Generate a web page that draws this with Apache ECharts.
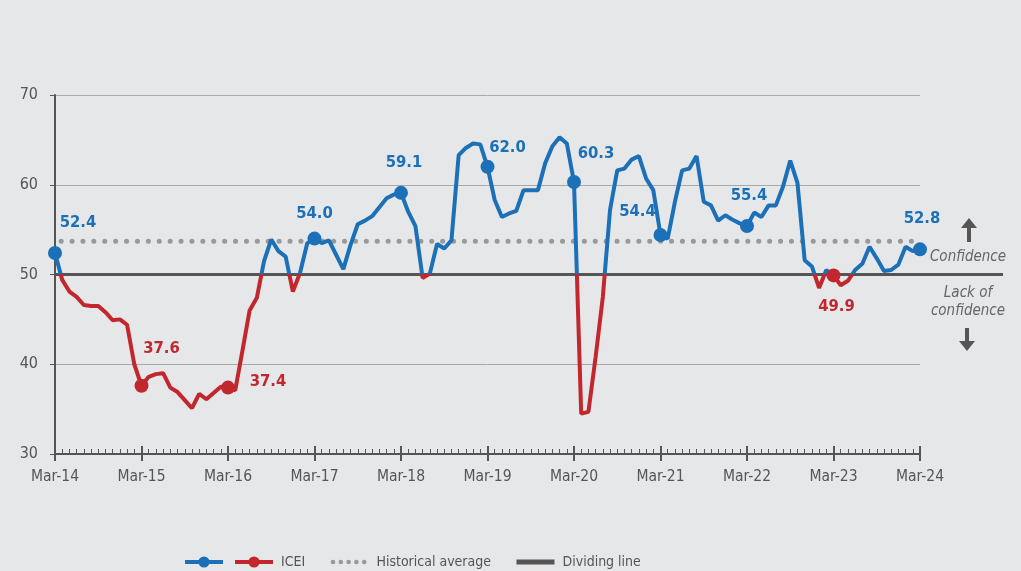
<!DOCTYPE html>
<html>
	<head>
		<meta charset="utf-8">
		<title>ICEI</title>
		<script src="https://cdn.jsdelivr.net/npm/echarts@6/dist/echarts.min.js"></script>
		<style>
			html, body { margin: 0; padding: 0; background: #e6e7e9; }
			#chart { width: 1021px; height: 571px; }
		</style>
	</head>
	<body>
		<div id="chart"></div>
		<script>
			// months Mar-14 .. Mar-24
			const monthNames = ['Jan','Feb','Mar','Apr','May','Jun','Jul','Aug','Sep','Oct','Nov','Dec'];
			const months = [];
			for (let y = 14; y <= 24; y++) {
				for (let m = 0; m < 12; m++) {
					if ((y === 14 && m < 2) || (y === 24 && m > 2)) continue;
					months.push(monthNames[m] + '-' + y);
				}
			}

			const icei = [
				52.4, 49.4, 48.1, 47.5, 46.6, 46.5, 46.5, 45.8, 44.9, 45.0, 44.4, 40.0,
				37.6, 38.6, 38.9, 39.0, 37.4, 36.9, 36.0, 35.1, 36.7, 36.1, 36.8, 37.5,
				37.4, 37.1, 41.5, 46.0, 47.4, 51.5, 53.9, 52.6, 52.0, 48.1, 50.2, 53.5,
				54.0, 53.5, 53.8, 52.2, 50.6, 53.3, 55.6, 56.0, 56.5, 57.5, 58.5, 58.9,
				59.1, 57.0, 55.4, 49.6, 50.1, 53.4, 52.9, 53.8, 63.3, 64.1, 64.6, 64.5,
				62.0, 58.3, 56.4, 56.8, 57.1, 59.4, 59.4, 59.4, 62.4, 64.3, 65.3, 64.6,
				60.3, 34.5, 34.7, 40.8, 47.5, 57.2, 61.6, 61.8, 62.8, 63.2, 60.7, 59.4,
				54.4, 54.0, 58.1, 61.6, 61.8, 63.2, 58.1, 57.7, 56.0, 56.6, 56.1, 55.7,
				55.4, 56.9, 56.4, 57.7, 57.7, 59.8, 62.7, 60.2, 51.6, 50.9, 48.5, 50.5,
				49.9, 48.8, 49.3, 50.5, 51.2, 53.1, 51.8, 50.4, 50.5, 51.1, 53.1, 52.6,
				52.8
			];
			// highlighted months (every March)
			const marked = [0, 12, 24, 36, 48, 60, 72, 84, 96, 108, 120];
			const labelOffsets = [[23,-30],[20,-37],[40,-6],[0,-25],[3,-30],[20,-19],[22,-28],[-23,-23],[2,-30],[3,31],[2,-31]];

			const historicalAverage = 53.7;
			const dividingLevel = 50;
			const yTicks = [30, 40, 50, 60, 70];

			const blue = '#1b70b7';
			const red = '#c1272d';
			const font = '"DejaVu Sans Condensed", Roboto, sans-serif';

			const chart = echarts.init(document.getElementById('chart'), null, {renderer: 'canvas'});

			const markerData = marked.map(function (i, n) {
				const v = icei[i];
				return {
					value: [i, v],
					label: {
						show: true,
						position: 'inside',
						offset: labelOffsets[n],
						formatter: v.toFixed(1),
						color: v < dividingLevel ? red : blue,
						fontFamily: font,
						fontWeight: 'bold',
						fontSize: 16.5
					}
				};
			});

			const catAxis = {
				type: 'category',
				data: months,
				boundaryGap: false,
				position: 'bottom',
				gridIndex: 0
			};

			option = {
				backgroundColor: '#e6e7e9',
				animation: false,
				grid: [
					{left: 55, right: 101, top: 95, bottom: 117},
					{left: 55, right: 18, top: 95, bottom: 117}
				],
				xAxis: [
					Object.assign({}, catAxis, {
						axisLine: {show: true, lineStyle: {color: '#555', width: 2}},
						axisTick: {show: true, interval: 0, inside: true, length: 5, lineStyle: {color: '#555', width: 1}},
						axisLabel: {interval: 11, showMaxLabel: true, margin: 15, color: '#555', fontFamily: font, fontSize: 15.5},
						splitLine: {show: false}
					}),
					Object.assign({}, catAxis, {
						axisLine: {show: false},
						axisTick: {show: true, interval: 11, inside: false, length: 7, lineStyle: {color: '#555', width: 2}},
						axisLabel: {show: false},
						splitLine: {show: false}
					}),
					Object.assign({}, catAxis, {
						axisLine: {show: false},
						axisTick: {show: true, interval: 11, inside: true, length: 8, lineStyle: {color: '#555', width: 2}},
						axisLabel: {show: false},
						splitLine: {show: false}
					}),
					{type: 'value', gridIndex: 1, min: 0, max: 1, show: false}
				],
				yAxis: [
					{
						type: 'value',
						min: yTicks[0],
						max: yTicks[yTicks.length - 1],
						interval: 10,
						axisLine: {show: true, lineStyle: {color: '#555', width: 2}},
						axisTick: {show: true, length: 5, lineStyle: {color: '#555', width: 1}},
						axisLabel: {margin: 17, color: '#555', fontFamily: font, fontSize: 16},
						splitLine: {show: true, lineStyle: {color: '#a9a9a9', width: 1}}
					},
					{type: 'value', gridIndex: 1, min: yTicks[0], max: yTicks[yTicks.length - 1], show: false}
				],
				visualMap: {
					type: 'piecewise',
					show: false,
					dimension: 1,
					seriesIndex: [2, 3],
					pieces: [
						{lt: dividingLevel, color: red},
						{gte: dividingLevel, lt: 100, color: blue},
						{gte: 100, color: blue}
					]
				},
				legend: [
					{
						left: 183,
						top: 555,
						padding: 0,
						itemWidth: 38,
						itemHeight: 14,
						lineStyle: {width: 4},
						data: ['ICEI (above 50)'],
						formatter: function () { return ''; }
					},
					{
						left: 233,
						top: 555,
						padding: 0,
						itemWidth: 38,
						itemHeight: 14,
						itemGap: 23,
						lineStyle: {width: 4},
						textStyle: {color: '#555', fontFamily: font, fontSize: 14, padding: [0, 0, 0, 3]},
						data: [
							'ICEI',
							{name: 'Historical average', itemStyle: {opacity: 0}, lineStyle: {color: '#999', width: 4.5, type: [0.1, 7.7], cap: 'round', dashOffset: -2.5}},
							{name: 'Dividing line', itemStyle: {opacity: 0}, lineStyle: {color: '#555', width: 5}}
						]
					}
				],
				series: [
					{
						name: 'Historical average',
						type: 'line',
						data: months.map(function () { return historicalAverage; }),
						symbol: 'none',
						color: '#999',
						lineStyle: {color: '#999', width: 5, type: [0.1, 10.8], dashOffset: 4.8, cap: 'round'},
						silent: true,
						z: 2
					},
					{
						name: 'Dividing line',
						type: 'line',
						xAxisIndex: 3,
						yAxisIndex: 1,
						data: [[0, dividingLevel], [1, dividingLevel]],
						symbol: 'none',
						color: '#555',
						lineStyle: {color: '#555', width: 3},
						silent: true,
						z: 3
					},
					{
						name: 'ICEI line',
						type: 'line',
						data: icei,
						symbol: 'none',
						lineStyle: {width: 4},
						z: 4
					},
					{
						name: 'ICEI points',
						type: 'scatter',
						data: markerData,
						symbol: 'circle',
						symbolSize: 14,
						itemStyle: {opacity: 1},
						z: 5
					},
					{
						name: 'ICEI (above 50)',
						type: 'line',
						data: [],
						color: blue,
						symbol: 'circle',
						symbolSize: 9,
						lineStyle: {width: 4}
					},
					{
						name: 'ICEI',
						type: 'line',
						data: [],
						color: red,
						symbol: 'circle',
						symbolSize: 9,
						lineStyle: {width: 4}
					}
				],
				graphic: [
					{type: 'text', x: 968, y: 257, style: {text: 'Confidence', fill: '#666', font: 'italic 15px ' + font, align: 'center', verticalAlign: 'middle'}},
					{type: 'text', x: 968, y: 293, style: {text: 'Lack of', fill: '#666', font: 'italic 15px ' + font, align: 'center', verticalAlign: 'middle'}},
					{type: 'text', x: 968, y: 311, style: {text: 'confidence', fill: '#666', font: 'italic 15px ' + font, align: 'center', verticalAlign: 'middle'}},
					// up arrow
					{type: 'rect', shape: {x: 967, y: 224, width: 4, height: 18}, style: {fill: '#555'}},
					{type: 'polygon', shape: {points: [[961, 228], [969, 218], [977, 228]]}, style: {fill: '#555'}},
					// down arrow
					{type: 'rect', shape: {x: 965, y: 328, width: 4, height: 18}, style: {fill: '#555'}},
					{type: 'polygon', shape: {points: [[959, 341], [967, 351], [975, 341]]}, style: {fill: '#555'}}
				]
			};
			chart.setOption(option);
		</script>
	</body>
</html>
